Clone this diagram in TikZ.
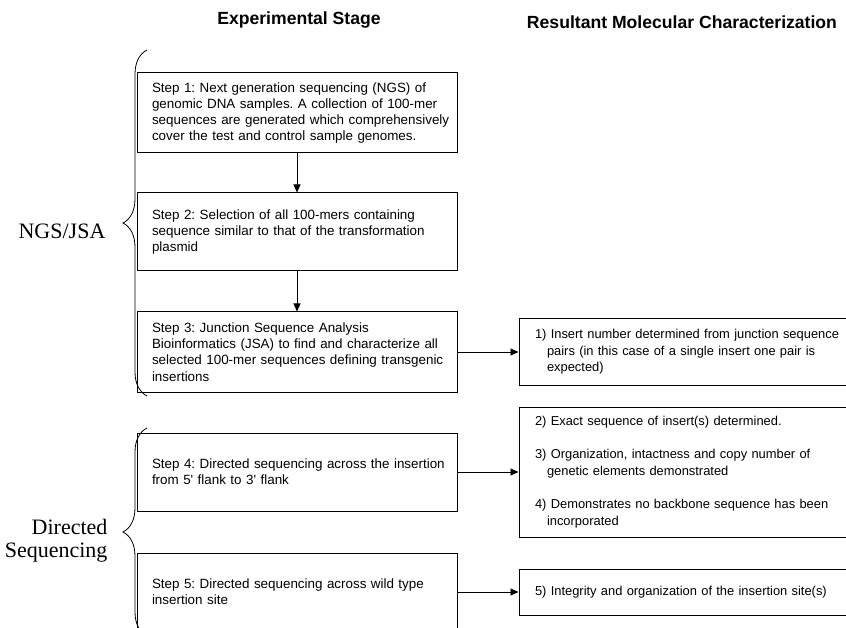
\documentclass[tikz,border=0pt]{standalone}
\usepackage{fontspec}
\setmainfont{Liberation Sans}
\newfontfamily\groupfont{Liberation Serif}
\usetikzlibrary{arrows.meta, positioning, decorations.pathreplacing}
\frenchspacing

\begin{document}
\begin{tikzpicture}[
    x=1pt, y=-1pt,
    stepbox/.style={draw, line width=1pt, text width=320pt, inner xsep=0pt, inner ysep=0pt, align=left,
        font=\fontsize{13.4}{16.3}\selectfont, execute at begin node={\leftskip=15pt\hyphenpenalty=10000}},
    resultbox/.style={draw, line width=1pt, text width=344pt, inner xsep=0pt, inner ysep=0pt, align=left,
        font=\fontsize{12.9}{16.5}\selectfont, execute at begin node={\leftskip=16pt\hyphenpenalty=10000}},
    header/.style={font=\fontsize{17.6}{20}\selectfont\bfseries},
    grouplabel/.style={font=\fontsize{22}{23}\selectfont\groupfont, align=right},
    flow/.style={-{Triangle[length=8pt,width=7pt]}, line width=0.9pt},
    group/.style={decorate, decoration={brace, amplitude=24pt}, line width=0.8pt}
]
    \useasboundingbox (0,0) rectangle (846,628);

    \node[header] (expstage) at (299,20) {Experimental Stage};
    \node[header] (resstage) at (682,22) {Resultant Molecular Characterization};

    \node[stepbox, minimum height=80pt] (step1) at (297,113) {Step 1: Next generation sequencing (NGS) of\\genomic DNA samples. A collection of 100-mer\\sequences are generated which comprehensively\\cover the test and control sample genomes.};
    \node[stepbox, minimum height=78pt, below=39pt of step1] (step2) {Step 2: Selection of all 100-mers containing\\sequence similar to that of the transformation\\plasmid};
    \node[stepbox, minimum height=80pt, below=40pt of step2] (step3) {Step 3: Junction Sequence Analysis\\Bioinformatics (JSA) to find and characterize all\\selected 100-mer sequences defining transgenic\\insertions};
    \node[stepbox, minimum height=78pt, below=40pt of step3] (step4) {Step 4: Directed sequencing across the insertion\\from 5\textquotesingle{} flank to 3\textquotesingle{} flank};
    \node[stepbox, minimum height=78pt, below=41pt of step4] (step5) {Step 5: Directed sequencing across wild type\\insertion site};

    \node[resultbox, minimum height=66pt, right=61pt of step3] (res1) {1) Insert number determined from junction sequence\\\hspace*{12pt}pairs (in this case of a single insert one pair is\\\hspace*{12pt}expected)};
    \node[resultbox, minimum height=130pt, right=61pt of step4] (res2) {2) Exact sequence of insert(s) determined.\\[17pt]3) Organization, intactness and copy number of\\\hspace*{12pt}genetic elements demonstrated\\[17pt]4) Demonstrates no backbone sequence has been\\\hspace*{12pt}incorporated};
    \node[resultbox, minimum height=46pt, right=61pt of step5] (res3) {5) Integrity and organization of the insertion site(s)};

    \draw[flow] (step1) -- (step2);
    \draw[flow] (step2) -- (step3);
    \draw[flow] (step3) -- (res1);
    \draw[flow] (step4) -- (res2);
    \draw[flow] (step5) -- (res3);

    \draw[group] (147,396) -- (147,50);
    \draw[group] (147,636) -- (147,428);
    \node[grouplabel] (ngsjsa) at (62,231) {NGS/JSA};
    \node[grouplabel, anchor=east] (directed) at (111,541) {Directed\\Sequencing};
\end{tikzpicture}
\end{document}
